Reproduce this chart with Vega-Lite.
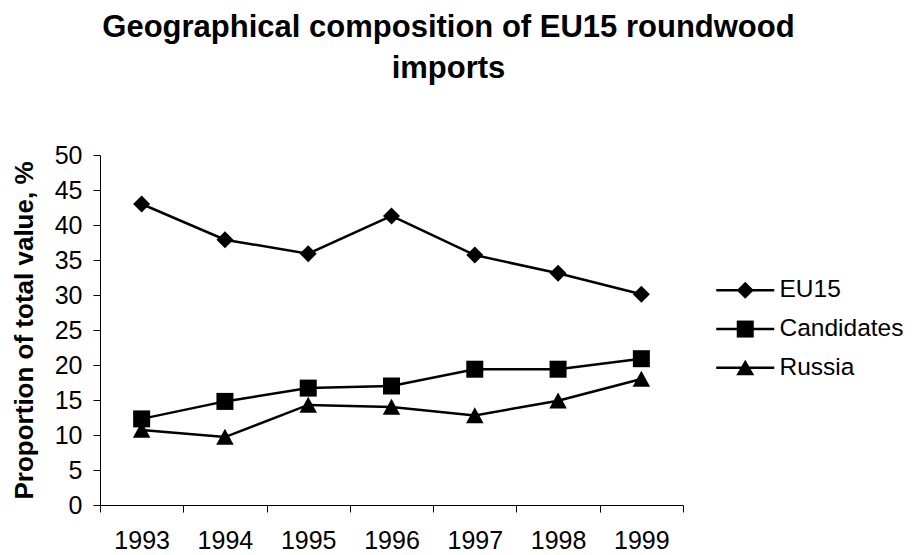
{
  "$schema": "https://vega.github.io/schema/vega-lite/v6.json",
  "autosize": {"type": "none"},
  "padding": {"left": 100, "top": 155, "right": 234, "bottom": 50},
  "width": 583,
  "height": 350,
  "background": "white",
  "config": {
    "view": {"stroke": null},
    "font": "Liberation Sans",
    "axis": {"grid": false, "domainColor": "black", "tickColor": "black", "labelColor": "black", "titleColor": "black", "labelFont": "Liberation Sans", "titleFont": "Liberation Sans"}
  },
  "title": {
    "text": ["Geographical composition of EU15 roundwood", "imports"],
    "font": "Liberation Sans",
    "fontSize": 31,
    "fontWeight": "bold",
    "lineHeight": 41,
    "color": "black",
    "anchor": "middle",
    "dx": 57,
    "offset": 58
  },
  "data": {
    "values": [
      {"year": "1993", "series": "EU15", "value": 43.0},
      {"year": "1994", "series": "EU15", "value": 37.9},
      {"year": "1995", "series": "EU15", "value": 35.9},
      {"year": "1996", "series": "EU15", "value": 41.3},
      {"year": "1997", "series": "EU15", "value": 35.7},
      {"year": "1998", "series": "EU15", "value": 33.1},
      {"year": "1999", "series": "EU15", "value": 30.1},
      {"year": "1993", "series": "Candidates", "value": 12.3},
      {"year": "1994", "series": "Candidates", "value": 14.8},
      {"year": "1995", "series": "Candidates", "value": 16.7},
      {"year": "1996", "series": "Candidates", "value": 17.0},
      {"year": "1997", "series": "Candidates", "value": 19.4},
      {"year": "1998", "series": "Candidates", "value": 19.4},
      {"year": "1999", "series": "Candidates", "value": 20.9},
      {"year": "1993", "series": "Russia", "value": 10.7},
      {"year": "1994", "series": "Russia", "value": 9.7},
      {"year": "1995", "series": "Russia", "value": 14.3},
      {"year": "1996", "series": "Russia", "value": 14.0},
      {"year": "1997", "series": "Russia", "value": 12.8},
      {"year": "1998", "series": "Russia", "value": 14.9},
      {"year": "1999", "series": "Russia", "value": 18.0}
    ]
  },
  "encoding": {
    "x": {
      "field": "year",
      "type": "ordinal",
      "bandPosition": 0.5,
      "scale": {"type": "band", "paddingInner": 0, "paddingOuter": 0},
      "axis": {
        "title": null,
        "labelAngle": 0,
        "tickBand": "extent",
        "labelFontSize": 25,
        "labelPadding": 16,
        "tickSize": 7,
        "domainWidth": 1,
        "tickWidth": 1
      }
    },
    "y": {
      "field": "value",
      "type": "quantitative",
      "scale": {"domain": [0, 50], "nice": false, "zero": true},
      "axis": {
        "title": "Proportion of total value, %",
        "titleFontSize": 26,
        "titleFontWeight": "bold",
        "titlePadding": 17,
        "values": [0, 5, 10, 15, 20, 25, 30, 35, 40, 45, 50],
        "labelFontSize": 25,
        "labelPadding": 11,
        "tickSize": 7
      }
    }
  },
  "layer": [
    {
      "mark": {"type": "line", "strokeWidth": 2.5},
      "encoding": {
        "color": {
          "field": "series",
          "type": "nominal",
          "sort": ["EU15", "Candidates", "Russia"],
          "scale": {"range": ["black", "black", "black"]},
          "legend": {
            "title": null,
            "orient": "none",
            "legendX": 633,
            "legendY": 123,
            "padding": 0,
            "symbolType": "M-2.9,0H2.9",
            "symbolSize": 400,
            "symbolStrokeWidth": 2.5,
            "symbolStrokeColor": "black",
            "labelFontSize": 24.5,
            "labelColor": "black",
            "labelOffset": 22,
            "rowPadding": 13.8
          }
        }
      }
    },
    {
      "mark": {"type": "point", "filled": true, "color": "black", "opacity": 1, "size": 100},
      "encoding": {
        "shape": {
          "field": "series",
          "type": "nominal",
          "scale": {
            "domain": ["EU15", "Candidates", "Russia"],
            "range": ["M0,-1.7L1.7,0L0,1.7L-1.7,0Z", "M-1.7,-1.7H1.7V1.7H-1.7Z", "M0,-1.65L1.75,1.55H-1.75Z"]
          },
          "legend": null
        }
      }
    },
    {
      "mark": {"type": "point", "filled": true, "color": "black", "opacity": 1, "size": 0},
      "encoding": {
        "shape": {
          "field": "series",
          "type": "nominal",
          "scale": {
            "domain": ["EU15", "Candidates", "Russia"],
            "range": ["M0,-0.85L0.85,0L0,0.85L-0.85,0Z", "M-0.85,-0.85H0.85V0.85H-0.85Z", "M0,-0.8L0.9,0.75H-0.9Z"]
          },
          "legend": {
            "title": null,
            "orient": "none",
            "legendX": 633,
            "legendY": 123,
            "padding": 0,
            "symbolSize": 400,
            "symbolOpacity": 1,
            "symbolFillColor": "black",
            "labelFontSize": 24.5,
            "labelColor": "black",
            "labelOpacity": 0,
            "labelOffset": 22,
            "rowPadding": 13.8
          }
        }
      }
    }
  ],
  "resolve": {"scale": {"shape": "independent"}}
}
